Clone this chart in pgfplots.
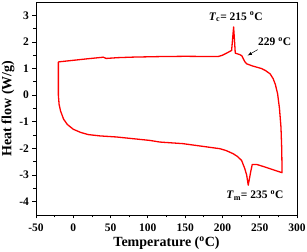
\documentclass[border=0pt]{standalone}
\usepackage{fontspec}
\setmainfont{Liberation Serif}
\usepackage{pgfplots}
\pgfplotsset{compat=1.18}
\begin{document}
\begin{tikzpicture}
\begin{axis}[
  scale only axis, width=261pt, height=213pt,
  xmin=-50, xmax=300, ymin=-4.5, ymax=3.5,
  xtick={-50,0,...,300}, ytick={-4,-3,...,3},
  minor x tick num=1, minor y tick num=1,
  tick pos=left, tick align=outside,
  major tick length=3.5pt, minor tick length=2.5pt,
  axis line style={line width=0.9pt}, every tick/.style={black, line width=0.8pt},
  /pgf/number format/assume math mode=true,
  xticklabel={\bfseries\pgfmathprintnumber[assume math mode=true]{\tick}},
  yticklabel={\bfseries\pgfmathprintnumber[assume math mode=true]{\tick}},
  tick label style={font=\fontsize{11.5}{12}\selectfont\bfseries},
  xticklabel style={yshift=-2pt},
  xlabel={Temperature (\textsuperscript{o}C)},
  ylabel={Heat flow (W/g)},
  label style={font=\fontsize{14}{15}\selectfont\bfseries},
  xlabel style={yshift=1.5pt},
  ylabel style={yshift=-2pt},
]
\addplot[red, line width=1.3pt, line join=round] coordinates {
(-20,1.25) (0,1.31) (20,1.37) (38,1.42) (40,1.43) (44,1.38) (60,1.41) (80,1.43)
(116,1.45) (150,1.46) (194,1.45) (200,1.5) (205.6,1.58) (212.3,1.68) (213.6,2.1)
(215,2.56) (216.3,2.0) (217.2,1.58) (223.5,1.52) (226,1.48) (228,1.37) (230,1.26) (232.4,1.18)
(240,1.1) (252.5,1.0) (258,0.92) (264,0.8) (268,0.62) (271,0.4) (274,0.05) (276.5,-0.5)
(278.5,-1.2) (279.5,-2.0) (280,-2.91)
(270,-2.82) (255,-2.68) (245.8,-2.6) (240,-2.6) (237.8,-2.89) (234.6,-3.38)
(232.5,-3.0) (230,-2.76) (225.7,-2.45) (220,-2.3) (214.5,-2.2) (205,-2.08) (196.6,-2.01)
(147,-1.82) (116,-1.76) (103,-1.70) (58,-1.57) (36,-1.53) (20,-1.48) (10,-1.40)
(0,-1.28) (-8,-1.1) (-13,-0.9) (-17,-0.6) (-19,-0.35) (-20,0) (-20,1.25)
};
\node[font=\fontsize{11.5}{12}\selectfont\bfseries] at (axis cs:217.8,2.94)
  {\textit{T}\textsubscript{c}= 215 \textsuperscript{o}C};
\node[font=\fontsize{11.5}{12}\selectfont\bfseries] at (axis cs:270,2.0)
  {229 \textsuperscript{o}C};
\node[font=\fontsize{11.5}{12}\selectfont\bfseries] at (axis cs:243.5,-3.77)
  {\textit{T}\textsubscript{m}= 235 \textsuperscript{o}C};
\draw[-latex, line width=0.5pt] (axis cs:247.2,1.71) -- (axis cs:233.8,1.49);
\end{axis}
\pgfresetboundingbox
\path ([shift={(-36pt,-37pt)}]current axis.south west) rectangle ([shift={(10pt,2pt)}]current axis.north east);
\end{tikzpicture}
\end{document}
